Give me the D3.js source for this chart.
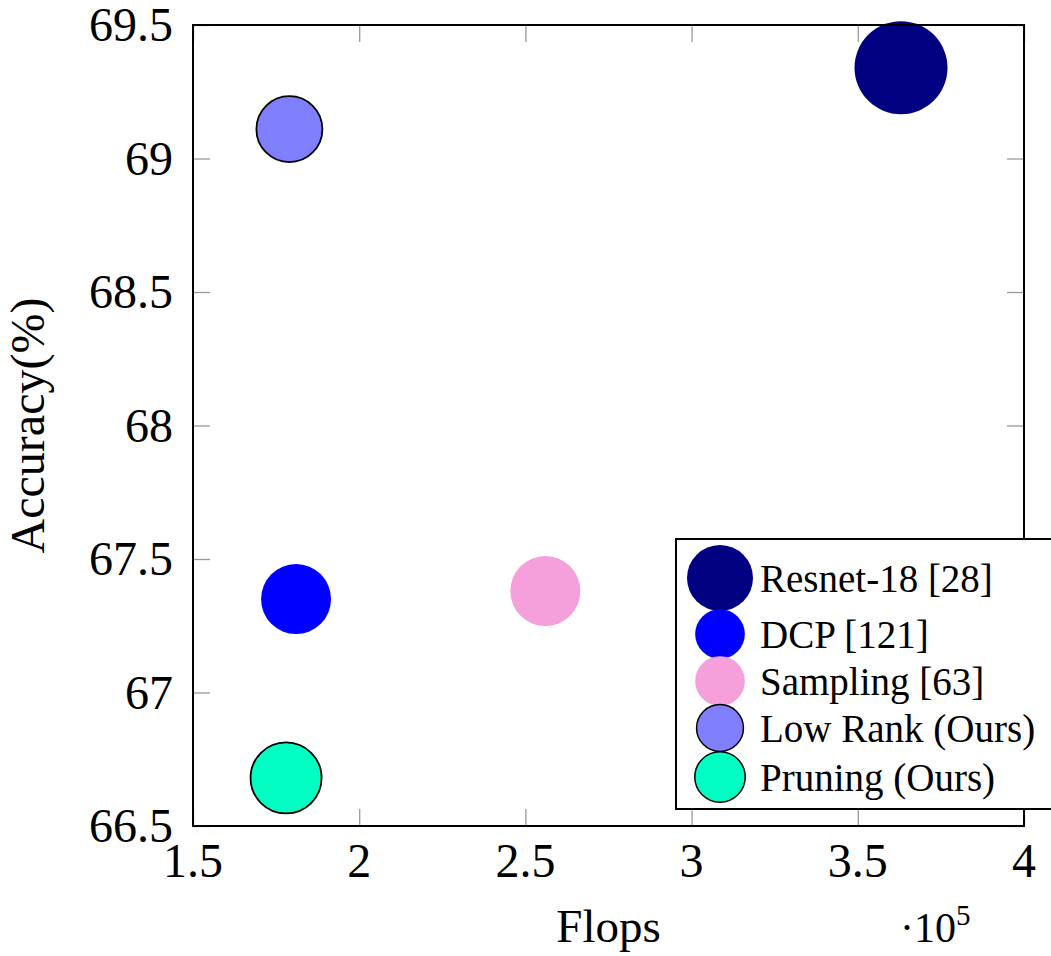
<!DOCTYPE html>
<html lang="en">
<head>
  <meta charset="UTF-8">
  <title>flops vs accuracy</title>
  <style>
    body { margin: 0; padding: 0; background: #fff; }
    svg { display: block; }
    text { font-family: "Liberation Serif", "DejaVu Serif", serif; fill: #000; }
  </style>
</head>
<body>
  <div class="chart"></div>
  <script src="https://cdnjs.cloudflare.com/ajax/libs/d3/7.8.5/d3.min.js"></script>
  <script>
    'use strict';

    // data (flops in units of 1e5)
    const methods = ['Resnet-18 [28]', 'DCP [121]', 'Sampling [63]', 'Low Rank (Ours)', 'Pruning (Ours)'],
      flops = [3.63, 1.81, 2.56, 1.79, 1.78],
      accuracy = [69.34, 67.35, 67.38, 69.11, 66.68],
      bubble = [46.5, 35, 35, 33, 35.5],
      fills = ['#000080', '#0000ff', '#f5a0da', '#8080ff', '#00ffc2'],
      outlined = [false, false, false, true, true],
      xTicks = [1.5, 2, 2.5, 3, 3.5, 4],
      yTicks = [66.5, 67, 67.5, 68, 68.5, 69, 69.5];

    const W = 1051, H = 956,
      m = { left: 193, top: 25, right: 27, bottom: 130 },
      pw = W - m.left - m.right,
      ph = H - m.top - m.bottom,
      tickLen = 17;

    const svg = d3.select('.chart').append('svg')
      .attr('width', W)
      .attr('height', H);

    const x = d3.scaleLinear().domain([1.5, 4]).range([0, pw]);
    const y = d3.scaleLinear().domain([66.5, 69.5]).range([ph, 0]);
    // legend markers come out a bit smaller than the plot marks
    const legendR = d3.scaleLinear().domain([0, 1]).range([0, 0.71]);

    const g = svg.append('g').attr('transform', `translate(${m.left},${m.top})`);

    // inner ticks on all four sides
    const tickStyle = sel => {
      sel.select('.domain').remove();
      sel.selectAll('.tick line').attr('stroke', '#999').attr('stroke-width', 1.3);
      sel.selectAll('.tick text').remove();
    };
    g.append('g').attr('transform', `translate(0,${ph})`)
      .call(d3.axisTop(x).tickValues(xTicks).tickSize(tickLen)).call(tickStyle);
    g.append('g')
      .call(d3.axisBottom(x).tickValues(xTicks).tickSize(tickLen)).call(tickStyle);
    g.append('g')
      .call(d3.axisRight(y).tickValues(yTicks).tickSize(tickLen)).call(tickStyle);
    g.append('g').attr('transform', `translate(${pw},0)`)
      .call(d3.axisLeft(y).tickValues(yTicks).tickSize(tickLen)).call(tickStyle);

    // tick labels
    g.selectAll('.xlab').data(xTicks).enter().append('text')
      .attr('class', 'xlab')
      .attr('x', d => x(d))
      .attr('y', ph + 51)
      .attr('text-anchor', 'middle')
      .attr('font-size', 48)
      .text(d => d3.format('')(d));

    g.selectAll('.ylab').data(yTicks).enter().append('text')
      .attr('class', 'ylab')
      .attr('x', -20)
      .attr('y', d => y(d))
      .attr('dy', '0.34em')
      .attr('text-anchor', 'end')
      .attr('font-size', 48)
      .text(d => d3.format('')(d));

    // bubbles
    const idx = d3.range(methods.length);
    g.selectAll('.dot').data(idx).enter().append('circle')
      .attr('class', 'dot')
      .attr('cx', i => x(flops[i]))
      .attr('cy', i => y(accuracy[i]))
      .attr('r', i => bubble[i])
      .attr('fill', i => fills[i])
      .attr('stroke', i => outlined[i] ? '#000' : 'none')
      .attr('stroke-width', 1.8);

    // frame
    g.append('rect')
      .attr('width', pw)
      .attr('height', ph)
      .attr('fill', 'none')
      .attr('stroke', '#000')
      .attr('stroke-width', 2);

    // axis labels
    svg.append('text')
      .attr('x', m.left + pw / 2)
      .attr('y', 942)
      .attr('text-anchor', 'middle')
      .attr('font-size', 47)
      .text('Flops');

    svg.append('text')
      .attr('transform', `translate(44,${m.top + ph / 2}) rotate(-90)`)
      .attr('text-anchor', 'middle')
      .attr('font-size', 48)
      .text('Accuracy(%)');

    const sci = svg.append('text')
      .attr('x', 900)
      .attr('y', 942)
      .attr('font-size', 42);
    sci.append('tspan').text('\u00b710');
    sci.append('tspan').attr('font-size', 29).attr('dy', -17).text('5');

    // legend
    const lg = svg.append('g').attr('transform', 'translate(676,539)');
    lg.append('rect')
      .attr('width', 380)
      .attr('height', 270)
      .attr('fill', '#fff')
      .attr('stroke', '#000')
      .attr('stroke-width', 2);

    const rowY = [39, 95, 142, 189, 238];
    const item = lg.selectAll('.item').data(idx).enter().append('g')
      .attr('class', 'item')
      .attr('transform', i => `translate(44,${rowY[i]})`);
    item.append('circle')
      .attr('r', i => legendR(bubble[i]))
      .attr('fill', i => fills[i])
      .attr('stroke', i => outlined[i] ? '#000' : 'none')
      .attr('stroke-width', 1.5);
    item.append('text')
      .attr('x', 40)
      .attr('dy', '0.35em')
      .attr('font-size', 39)
      .text(i => methods[i]);
  </script>
</body>
</html>
